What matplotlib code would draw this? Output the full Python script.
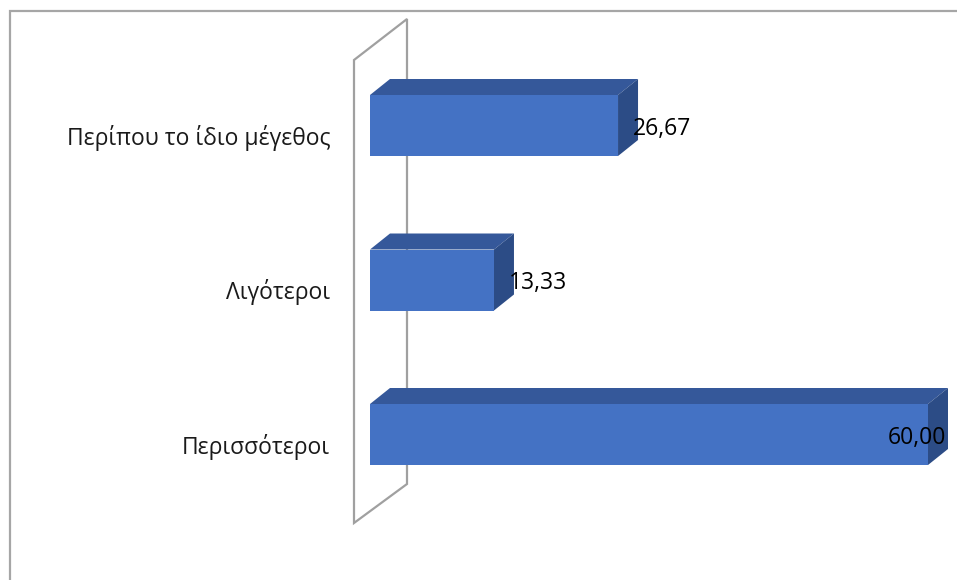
import matplotlib

matplotlib.use("Agg")

import matplotlib.pyplot as plt
from matplotlib.patches import Polygon, Rectangle

plt.rcParams["font.family"] = ["Open Sans", "DejaVu Sans"]

categories = ["Περισσότεροι", "Λιγότεροι", "Περίπου το ίδιο μέγεθος"]
values = [60.00, 13.33, 26.67]
value_labels = ["60,00", "13,33", "26,67"]

FRONT = "#4472C4"
TOP = "#35589A"
SIDE = "#2C4C86"
WALL = "#A0A0A0"

W, H = 957, 580
px_per_unit = 9.3
x0_px = 370
pos0_px = 434.5
px_per_cat = 154.5

fig = plt.figure(figsize=(W / 100, H / 100), dpi=100)
ax = fig.add_axes([0, 0, 1, 1])
xmin = -x0_px / px_per_unit
xmax = (W - x0_px) / px_per_unit
ax.set_xlim(xmin, xmax)
ax.set_ylim((pos0_px - H) / px_per_cat, pos0_px / px_per_cat)
ax.axis("off")

# outer chart frame (cut by the image edges)
fig.patches.append(Rectangle((9.5 / W, -0.1), 1.2, 1 - 11 / H + 0.1,
                             transform=fig.transFigure, fill=False,
                             edgecolor="#A6A6A6", lw=1.6))

# depth offsets of the 3D look
dx = 20 / px_per_unit
dy = 16 / px_per_cat
bar_h = 61 / px_per_cat

# side wall
wx0 = (354 - x0_px) / px_per_unit
wx1 = (407 - x0_px) / px_per_unit
wy = lambda p: (pos0_px - p) / px_per_cat
ax.add_patch(Polygon([(wx0, wy(523)), (wx0, wy(60)), (wx1, wy(19)), (wx1, wy(484))],
                     closed=True, fill=False, edgecolor=WALL, lw=1.6, zorder=1))

for i, (cat, v, lab) in enumerate(zip(categories, values, value_labels)):
    b, t = i - bar_h / 2, i + bar_h / 2
    ax.add_patch(Polygon([(0, t), (dx, t + dy), (v + dx, t + dy), (v, t)],
                         closed=True, facecolor=TOP, edgecolor="none", zorder=2))
    ax.add_patch(Polygon([(v, b), (v, t), (v + dx, t + dy), (v + dx, b + dy)],
                         closed=True, facecolor=SIDE, edgecolor="none", zorder=2))
    ax.add_patch(Rectangle((0, b), v, bar_h, facecolor=FRONT, edgecolor="none", zorder=3))
    ax.text(-4.3, i - 0.08, cat, ha="right", va="center", fontsize=16.5, color="#1a1a1a")
    ax.text(min(v + 1.6, xmax - 7.4), i - 0.02, lab, ha="left", va="center",
            fontsize=16.5, color="#000000", zorder=4)

fig.savefig("out.png", dpi=100)
